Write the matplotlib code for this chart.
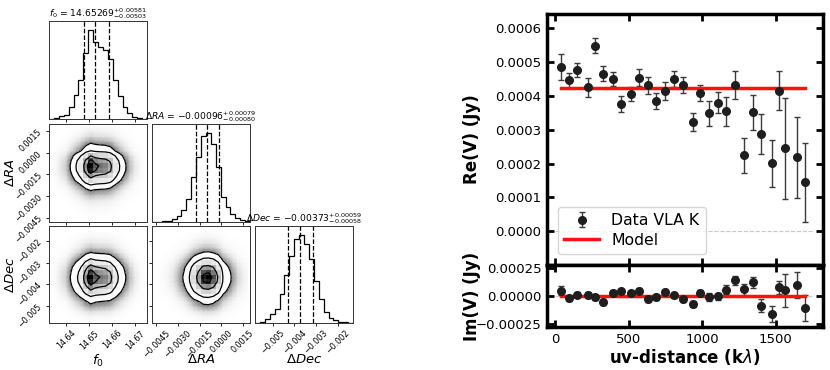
import numpy as np
import matplotlib
matplotlib.use("Agg")
import matplotlib.pyplot as plt
from matplotlib.colors import LinearSegmentedColormap

# ---- uv-plot data ----
uv_dist = [38, 93, 151, 222, 269, 326, 391, 450, 516, 568, 631, 687, 748, 809, 866,
           934, 986, 1045, 1106, 1162, 1223, 1282, 1345, 1397, 1472, 1524, 1565, 1642, 1700]
re_vis = [4.85e-4, 4.46e-4, 4.77e-4, 4.25e-4, 5.48e-4, 4.66e-4, 4.51e-4, 3.76e-4, 4.05e-4,
          4.54e-4, 4.31e-4, 3.84e-4, 4.14e-4, 4.50e-4, 4.31e-4, 3.22e-4, 4.08e-4, 3.48e-4,
          3.80e-4, 3.55e-4, 4.33e-4, 2.24e-4, 3.51e-4, 2.87e-4, 2.01e-4, 4.15e-4, 2.45e-4,
          2.18e-4, 1.44e-4]
vis_err = [3.8e-5, 2.2e-5, 2.0e-5, 2.9e-5, 2.2e-5, 2.3e-5, 2.1e-5, 2.3e-5, 2.1e-5, 2.4e-5,
           2.6e-5, 2.4e-5, 2.6e-5, 2.4e-5, 2.4e-5, 2.6e-5, 2.4e-5, 3.6e-5, 3.0e-5, 4.3e-5,
           4.1e-5, 5.1e-5, 5.2e-5, 5.9e-5, 6.9e-5, 5.8e-5, 1.49e-4, 1.20e-4, 1.18e-4]
im_vis = [4.8e-5, -2.1e-5, 1.2e-5, 0.9e-5, -1.2e-5, -5.4e-5, 3.0e-5, 4.2e-5, 2.7e-5, 4.8e-5,
          -2.7e-5, -0.9e-5, 3.3e-5, 0.6e-5, -3.0e-5, -6.9e-5, 3.0e-5, -0.6e-5, -0.3e-5, 5.7e-5,
          1.41e-4, 6.0e-5, 1.23e-4, -8.7e-5, -1.62e-4, 7.8e-5, 5.4e-5, 9.9e-5, -1.11e-4]
model_re = 0.000422
model_im = 0.0
zero_line_span = [0, 1745]

# ---- corner plot data: marginal histogram heights (20 bins) ----
par_labels = [r'$f_0$', r'$\Delta RA$', r'$\Delta Dec$']
par_ranges = [(14.6326, 14.6750), (-0.00480, 0.00200), (-0.00581, -0.00130)]
par_ticks = [[14.64, 14.65, 14.66, 14.67],
             [-0.0045, -0.0030, -0.0015, 0.0, 0.0015],
             [-0.005, -0.004, -0.003, -0.002]]
f0_counts = [0.004, 0.01, 0.03, 0.05, 0.14, 0.27, 0.44, 0.74, 1.0, 0.86,
             0.81, 0.78, 0.675, 0.44, 0.26, 0.14, 0.064, 0.026, 0.01, 0.004]
ra_counts = [0.004, 0.004, 0.008, 0.015, 0.03, 0.07, 0.13, 0.26, 0.51, 0.73,
             0.96, 1.0, 0.88, 0.62, 0.28, 0.17, 0.09, 0.04, 0.02, 0.008]
dec_counts = [0.005, 0.015, 0.04, 0.10, 0.16, 0.33, 0.55, 0.76, 0.95, 1.0,
              0.90, 0.73, 0.48, 0.27, 0.13, 0.06, 0.03, 0.015, 0.006, 0.003]
par_counts = [f0_counts, ra_counts, dec_counts]
par_quant = [[14.64766, 14.65269, 14.65850],
             [-0.00176, -0.00096, -0.00017],
             [-0.00431, -0.00373, -0.00314]]
par_titles = [r'$f_0$ = $14.65269_{-0.00503}^{+0.00581}$',
              r'$\Delta RA$ = $-0.00096_{-0.00080}^{+0.00079}$',
              r'$\Delta Dec$ = $-0.00373_{-0.00058}^{+0.00059}$']

W, H = 830, 370
fig = plt.figure(figsize=(W / 100, H / 100), dpi=100)


def px_axes(l, t, r, b):
    return fig.add_axes([l / W, 1 - b / H, (r - l) / W, (b - t) / H])


density_cmap = LinearSegmentedColormap.from_list("dens", [(0, 0, 0, 1), (1, 1, 1, 0)])
halo_cmap = LinearSegmentedColormap.from_list("halo", ["white", "#6e6e6e"])
sig_levels = 1.0 - np.exp(-0.5 * np.arange(0.5, 2.1, 0.5) ** 2)


def draw_2d(ax, hx, hy, xr, yr):
    hx = np.asarray(hx)
    hy = np.asarray(hy)
    xe = np.linspace(xr[0], xr[1], len(hx) + 1)
    ye = np.linspace(yr[0], yr[1], len(hy) + 1)
    xc = 0.5 * (xe[1:] + xe[:-1])
    yc = 0.5 * (ye[1:] + ye[:-1])
    Z = np.outer(hy, hx)
    flat = np.sort(Z.ravel())[::-1]
    cum = np.cumsum(flat) / flat.sum()
    V = []
    for lv in sig_levels:
        sel = flat[cum <= lv]
        V.append(sel[-1] if len(sel) else flat[0])
    V = np.sort(V)
    # point cloud outside the outer contour, drawn as a soft grey halo
    halo = np.clip(Z / V[0], 0, 1) ** 1.2
    ax.pcolormesh(xc, yc, halo, shading='gouraud', cmap=halo_cmap, vmin=0, vmax=1)
    ax.contourf(xc, yc, Z, [V[0], Z.max() * 1.01], colors='white', antialiased=False)
    ax.pcolormesh(xe, ye, 1 - (Z / Z.max()) ** 1.4, cmap=density_cmap, vmin=0, vmax=1)
    ax.contour(xc, yc, Z, V, colors='k', linewidths=0.9)
    ax.set_xlim(xr)
    ax.set_ylim(yr)


cols = [(49, 147), (152, 250), (255, 353)]
rows = [(21, 119), (124, 222), (226, 323)]

for i in range(3):
    for j in range(i + 1):
        ax = px_axes(cols[j][0], rows[i][0], cols[j][1], rows[i][1])
        if i == j:
            cnt = np.asarray(par_counts[i])
            edges = np.linspace(par_ranges[i][0], par_ranges[i][1], len(cnt) + 1)
            centers = 0.5 * (edges[1:] + edges[:-1])
            ax.hist(centers, bins=edges, weights=cnt, histtype='step', color='k', lw=0.9)
            ax.set_xlim(par_ranges[i])
            ax.set_ylim(0, 1.1 * cnt.max())
            for q in par_quant[i]:
                ax.axvline(q, ls='--', color='k', lw=0.9)
            ax.set_yticks([])
            ax.set_title(par_titles[i], fontsize=6.6, pad=2)
        else:
            draw_2d(ax, par_counts[j], par_counts[i], par_ranges[j], par_ranges[i])
            ax.set_yticks(par_ticks[i])
            ax.set_ylim(par_ranges[i])
            if j == 0:
                for lab in ax.get_yticklabels():
                    lab.set_rotation(45)
                ax.set_ylabel(par_labels[i], fontsize=9.5)
                ax.yaxis.set_label_coords(-0.33, 0.5)
            else:
                ax.set_yticklabels([])
        ax.set_xticks(par_ticks[j])
        ax.set_xlim(par_ranges[j])
        if i == 2:
            for lab in ax.get_xticklabels():
                lab.set_rotation(45)
            ax.set_xlabel(par_labels[j], fontsize=9.5)
            ax.xaxis.set_label_coords(0.5, -0.31)
        else:
            ax.set_xticklabels([])
        ax.tick_params(labelsize=5.8, length=2.5, width=0.6, pad=1.5)
        for s in ax.spines.values():
            s.set_linewidth(0.7)
            s.set_color('#333333')

# ---- uv plot ----
ax1 = px_axes(547, 14, 823, 265)
ax2 = px_axes(547, 265, 823, 327)

ax1.hlines(0, zero_line_span[0], zero_line_span[1], colors='#c8c8c8', linestyles='--', lw=0.8)
eb = ax1.errorbar(uv_dist, re_vis, yerr=vis_err, fmt='o', color='#1e1e1e', ms=5.5,
                  ecolor='#3a3a3a', elinewidth=1, capsize=2, capthick=1, label='Data VLA K')
ml, = ax1.plot(uv_dist, [model_re] * len(uv_dist), color='#ff1010', lw=2.5, label='Model')
ax1.legend(handles=[eb, ml], loc='lower left', fontsize=11.3, handlelength=2.2,
           borderaxespad=0.7, labelspacing=0.3)

ax2.hlines(0, zero_line_span[0], zero_line_span[1], colors='#c8c8c8', linestyles='--', lw=0.8)
ax2.errorbar(uv_dist, im_vis, yerr=vis_err, fmt='o', color='#1e1e1e', ms=5.5,
             ecolor='#3a3a3a', elinewidth=1, capsize=2, capthick=1)
ax2.plot(uv_dist, [model_im] * len(uv_dist), color='#ff1010', lw=2.5)

for ax in (ax1, ax2):
    ax.set_xlim(-55, 1820)
    ax.set_xticks([0, 500, 1000, 1500])
    ax.tick_params(direction='in', top=True, right=True, length=5, width=2,
                   labelsize=9.5, pad=4)
    for s in ax.spines.values():
        s.set_linewidth(2.5)

ax1.set_ylim(-0.0001, 0.000642)
ax1.set_yticks([0, 0.0001, 0.0002, 0.0003, 0.0004, 0.0005, 0.0006])
ax1.tick_params(labelbottom=False)
ax2.set_ylim(-0.00028, 0.00028)
ax2.set_yticks([-0.00025, 0, 0.00025])

ax1.set_ylabel('Re(V) (Jy)', fontsize=12, fontweight='bold')
ax2.set_ylabel('Im(V) (Jy)', fontsize=12, fontweight='bold')
ax1.yaxis.set_label_coords(-0.24, 0.5)
ax2.yaxis.set_label_coords(-0.24, 0.5)
ax2.set_xlabel(r'uv-distance (k$\lambda$)', fontsize=12, fontweight='bold', labelpad=1)

fig.savefig('out.png', dpi=100)
